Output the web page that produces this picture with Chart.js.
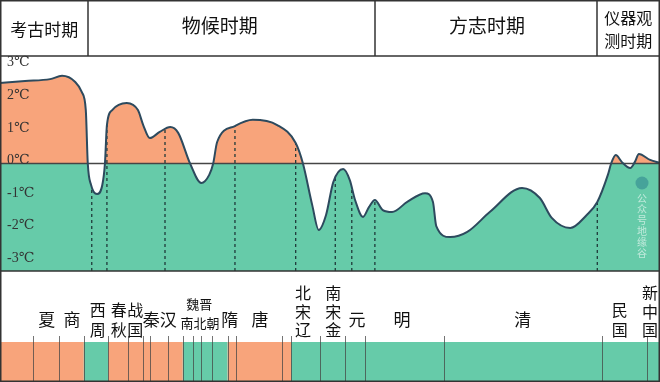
<!DOCTYPE html>
<html><head><meta charset="utf-8">
<script src="https://cdn.jsdelivr.net/npm/chart.js@4"></script>
<style>html,body{margin:0;padding:0;background:#fff;}canvas{display:block;}</style>
</head><body>
<canvas id="c" width="660" height="382"></canvas>
<script>
// timeline position (0 = left edge, 100 = right edge of the figure) and temperature anomaly (℃)
const curveX = [0,3.8,7.6,9.4,11.4,12.4,13.0,13.3,13.8,14.7,15.5,15.9,16.2,17.0,19.2,20.9,21.7,22.7,24.2,25.8,27.0,28.8,30.5,31.7,32.3,32.9,35.6,38.3,42.0,44.8,45.9,47.3,48.3,49.4,50.5,52.0,53.0,53.8,55.0,55.9,56.8,58.0,59.4,61.7,64.4,65.6,66.1,68.2,70.8,74.2,79.1,81.8,83.6,86.4,88.9,90.5,92.1,92.6,93.3,94.2,95.5,96.2,96.8,98.5,100];
const curveT = [2.47,2.53,2.59,2.69,2.50,2.19,1.64,0.0,-0.66,-0.94,-0.66,0.0,1.18,1.64,1.86,1.64,1.18,0.78,0.97,1.12,0.94,0.0,-0.60,-0.35,0.0,0.66,1.15,1.34,1.18,0.63,0.0,-1.27,-2.04,-1.58,-0.57,-0.17,-0.51,-1.12,-1.64,-1.34,-1.12,-1.43,-1.49,-1.18,-0.91,-1.18,-1.92,-2.26,-2.10,-1.49,-0.75,-1.06,-1.67,-1.98,-1.58,-1.18,-0.35,0.0,0.26,0.05,-0.14,0.05,0.29,0.11,0.02];
const yTicks = [3,2,1,0,-1,-2,-3];
const dividerX = [13.9,16.2,25.0,35.6,44.8,50.8,53.3,56.8,90.5];
const dividerTop = [-0.75,1.18,1.05,1.15,0.63,-0.45,-0.80,-1.12,-1.18];
const periodNames = ['考古时期','物候时期','方志时期','仪器观测时期'];
const periodBounds = [13.4,56.8,90.5];
const periodLabelX = [6.7,33.3,73.8,95.2];
const dynastyNames = ['夏','商','西周','春秋','战国','秦','汉','魏晋','南北朝','隋','唐','北宋辽','南宋金','元','明','清','民国','新中国'];
const dynastyLabelX = [7.1,10.9,14.8,18.0,20.5,22.9,25.5,30.2,30.3,34.8,39.4,45.9,50.5,54.1,60.9,79.2,93.9,98.5];
const dynastyBounds = [5.0,8.9,12.7,16.4,19.4,21.7,22.7,25.5,27.7,29.2,30.5,32.1,34.5,35.8,42.7,44.1,48.5,52.3,55.3,67.3,91.2,98.0];
const climateBounds = [0,12.7,16.4,27.7,34.5,44.1,100];
const climateKinds = ['warm','cold','warm','cold','warm','cold'];

const ORANGE = '#F8A47B', GREEN = '#66CBA9', LINE = '#2D4A5E';
const CJK = '"Noto Sans CJK SC", sans-serif';

const pts = curveX.map((x,i)=>({x, y: curveT[i]}));
const datasets = [
  {data: pts, borderColor: LINE, borderWidth: 2, fill: false, pointRadius: 0, cubicInterpolationMode: 'monotone', order: 0},
  {data: [{x:0,y:0},{x:100,y:0}], borderColor: '#454545', borderWidth: 1.6, fill: false, pointRadius: 0, order: 2},
  {data: pts, borderWidth: 0, borderColor: 'rgba(0,0,0,0)', pointRadius: 0, cubicInterpolationMode: 'monotone',
   fill: {target: {value: 0}, above: ORANGE, below: 'rgba(0,0,0,0)'}, order: 3},
  {data: pts, borderWidth: 0, borderColor: 'rgba(0,0,0,0)', pointRadius: 0, cubicInterpolationMode: 'monotone',
   fill: 'start', backgroundColor: GREEN, order: 4}
];
dividerX.forEach((x,i)=>{
  datasets.push({data: [{x, y: -3.3},{x, y: dividerTop[i]}], borderColor: '#1f3a3a', borderWidth: 1.3,
    borderDash: [3,3], fill: false, pointRadius: 0, order: 1});
});

const decor = {
  id: 'decor',
  afterDraw(chart){
    const ctx = chart.ctx, xs = chart.scales.x, area = chart.chartArea;
    const px = v => xs.getPixelForValue(v);
    const W = chart.width, H = chart.height;
    ctx.save();
    // climate bar
    const barTop = 342, barBot = H;
    for (let i = 0; i < climateKinds.length; i++) {
      const a = px(climateBounds[i]), b = px(climateBounds[i+1]);
      ctx.fillStyle = climateKinds[i] === 'warm' ? ORANGE : GREEN;
      ctx.fillRect(a, barTop, b - a, barBot - barTop);
    }
    ctx.strokeStyle = 'rgba(70,70,70,0.75)'; ctx.lineWidth = 1;
    dynastyBounds.forEach(v => {
      const x = Math.round(px(v)) + 0.5;
      ctx.beginPath(); ctx.moveTo(x, 336); ctx.lineTo(x, barBot); ctx.stroke();
    });
    // dynasty labels
    ctx.fillStyle = '#111'; ctx.textAlign = 'center'; ctx.textBaseline = 'middle';
    dynastyNames.forEach((n, i) => {
      const x = px(dynastyLabelX[i]);
      if (n === '魏晋' || n === '南北朝') {
        ctx.font = '13px ' + CJK;
        ctx.fillText(n, x, n === '魏晋' ? 304 : 323);
      } else if (n.length === 1) {
        ctx.font = '17px ' + CJK;
        ctx.fillText(n, x, 320);
      } else {
        ctx.font = '16px ' + CJK;
        const step = n.length === 3 ? 18.5 : 20.5;
        const chars = [...n];
        chars.forEach((ch, k) => ctx.fillText(ch, x, 330 - (chars.length - 1 - k) * step));
      }
    });
    // header
    ctx.strokeStyle = '#333'; ctx.lineWidth = 1.5;
    periodBounds.forEach(v => {
      const x = Math.round(px(v));
      ctx.beginPath(); ctx.moveTo(x, 0); ctx.lineTo(x, area.top); ctx.stroke();
    });
    ctx.beginPath(); ctx.moveTo(0, area.top); ctx.lineTo(W, area.top); ctx.stroke();
    ctx.beginPath(); ctx.moveTo(0, area.bottom); ctx.lineTo(W, area.bottom); ctx.stroke();
    ctx.strokeRect(0.75, 0.75, W - 1.5, H - 1.5);
    ctx.fillStyle = '#111';
    periodNames.forEach((n, i) => {
      const x = px(periodLabelX[i]);
      if (n.length > 4) {
        ctx.font = '16px ' + CJK;
        ctx.fillText(n.slice(0, 3), x, 18);
        ctx.fillText(n.slice(3), x, 41);
      } else {
        ctx.font = (i === 0 ? '17px ' : '19px ') + CJK;
        ctx.fillText(n, x, i === 0 ? 30 : 26);
      }
    });
    // watermark
    ctx.fillStyle = 'rgba(60,150,150,0.75)';
    ctx.beginPath(); ctx.arc(642, 183, 6.5, 0, Math.PI * 2); ctx.fill();
    ctx.fillStyle = 'rgba(255,255,255,0.6)'; ctx.font = '10px ' + CJK;
    [...'公众号地缘谷'].forEach((ch, k) => ctx.fillText(ch, 642, 198 + k * 11));
    ctx.restore();
  }
};

new Chart(document.getElementById('c'), {
  type: 'line',
  data: {datasets},
  options: {
    responsive: false, animation: false, events: [],
    layout: {padding: {top: 56, bottom: 111, left: 0, right: 0}},
    plugins: {legend: {display: false}, tooltip: {enabled: false}},
    scales: {
      x: {type: 'linear', min: 0, max: 100, display: false},
      y: {
        type: 'linear', min: -3.3, max: 3.3, z: 1,
        grid: {display: false, drawTicks: false}, border: {display: false},
        afterBuildTicks: s => { s.ticks = yTicks.map(v => ({value: v})); },
        afterFit: s => { s.width = 0; },
        ticks: {z: 1, autoSkip: false, mirror: true, padding: 7, labelOffset: -3, color: '#333',
          font: {family: '"Liberation Serif", "DejaVu Serif", "Noto Sans CJK SC", serif', size: 14},
          callback: v => v + '℃'}
      }
    }
  },
  plugins: [decor]
});
</script>
</body></html>
